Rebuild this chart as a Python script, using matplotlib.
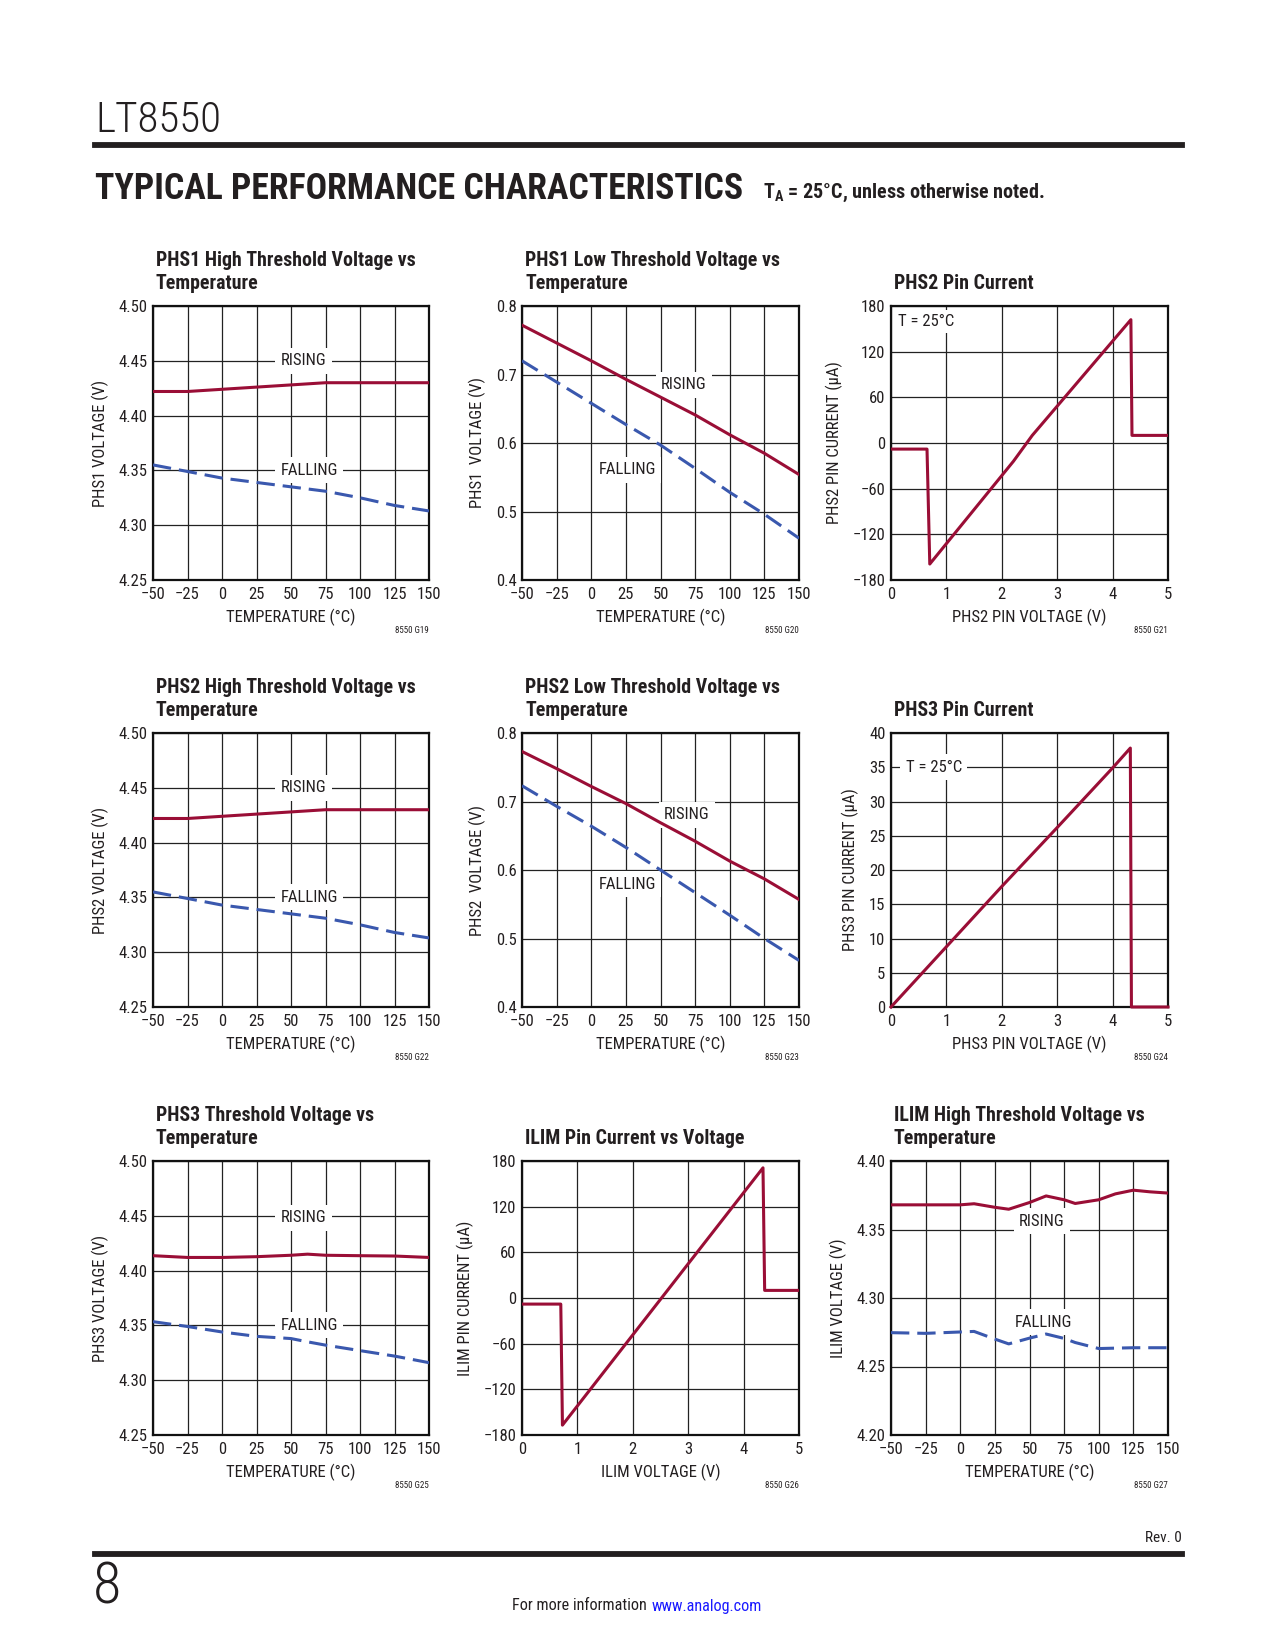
import numpy as np
import matplotlib
matplotlib.use('Agg')
import matplotlib.pyplot as plt

plt.rcParams['font.family'] = ['Roboto Condensed', 'DejaVu Sans Condensed', 'Liberation Sans Narrow',
                               'Roboto', 'DejaVu Sans']
plt.rcParams['font.stretch'] = 'condensed'
plt.rcParams['axes.unicode_minus'] = True

temp = [-50, -25, 0, 25, 50, 75, 100, 125, 150]

phs1_hi_rise = [4.422, 4.422, 4.424, 4.426, 4.428, 4.430, 4.430, 4.430, 4.430]
phs1_hi_fall = [4.355, 4.349, 4.343, 4.339, 4.335, 4.331, 4.325, 4.318, 4.313]

phs1_lo_rise = [0.772, 0.746, 0.720, 0.693, 0.667, 0.641, 0.612, 0.585, 0.554]
phs1_lo_fall = [0.720, 0.689, 0.658, 0.627, 0.597, 0.563, 0.528, 0.496, 0.461]

phs2_pin_v = [0, 0.65, 0.70, 2.21, 2.55, 4.33, 4.35, 5.0]
phs2_pin_i = [-8, -8, -159, -24, 10, 162, 10, 10]

phs2_hi_rise = [4.422, 4.422, 4.424, 4.426, 4.428, 4.430, 4.430, 4.430, 4.430]
phs2_hi_fall = [4.355, 4.349, 4.343, 4.339, 4.335, 4.331, 4.325, 4.318, 4.313]

phs2_lo_rise = [0.773, 0.748, 0.722, 0.697, 0.669, 0.642, 0.613, 0.587, 0.557]
phs2_lo_fall = [0.723, 0.693, 0.664, 0.633, 0.600, 0.567, 0.534, 0.500, 0.468]

phs3_pin_v = [0, 1, 2, 3, 4, 4.32, 4.34, 5.0]
phs3_pin_i = [0, 8.8, 17.6, 26.2, 34.9, 37.8, 0, 0]

phs3_temp = [-50, -25, 0, 25, 50, 62, 75, 100, 125, 150]
phs3_rise = [4.4136, 4.412, 4.412, 4.4127, 4.414, 4.415, 4.414, 4.4136, 4.4133, 4.412]
phs3_fall = [4.3534, 4.349, 4.344, 4.340, 4.338, 4.335, 4.332, 4.327, 4.322, 4.316]

ilim_pin_v = [0, 0.70, 0.73, 4.35, 4.38, 5.0]
ilim_pin_i = [-8, -8, -167, 171, 10, 10]

ilim_temp = [-50, -25, 0, 10, 25, 35, 50, 62, 75, 83, 100, 112, 125, 137, 150]
ilim_rise = [4.368, 4.368, 4.368, 4.3688, 4.3662, 4.3648, 4.3697, 4.3745, 4.3717,
             4.3690, 4.3717, 4.3760, 4.3787, 4.3775, 4.3766]
ilim_fall = [4.2747, 4.2742, 4.2752, 4.2756, 4.2700, 4.2665, 4.2707, 4.2737, 4.2705,
             4.2675, 4.2631, 4.2634, 4.2637, 4.2637, 4.2637]

temp_ticks = [-50, -25, 0, 25, 50, 75, 100, 125, 150]
temp_labels = ['\u221250', '\u221225', '0', '25', '50', '75', '100', '125', '150']

RED = '#9a0e36'
BLUE = '#3a58ae'
INK = '#231f20'
W, H = 1275, 1650
FS = 12

fig = plt.figure(figsize=(12.75, 16.5), dpi=100)
renderer = fig.canvas.get_renderer()


def fit(t, target_px):
    # scale a text so that it spans target_px pixels
    w = t.get_window_extent(renderer).width
    t.set_fontsize(t.get_fontsize() * target_px / w)
    return t.get_fontsize()


def make_ax(left, top, width=277, height=274):
    return fig.add_axes([left / W, 1 - (top + height) / H, width / W, height / H])


def style(ax, xlim, ylim, xticks, xlabels, yticks, ylabels, xlab, ylab, code):
    ax.set_xlim(*xlim)
    ax.set_ylim(*ylim)
    ax.set_xticks(xticks)
    ax.set_xticklabels(xlabels)
    ax.set_yticks(yticks)
    ax.set_yticklabels(ylabels)
    ax.grid(True, color='#222222', lw=0.9)
    ax.set_axisbelow(True)
    ax.tick_params(length=0, labelsize=FS, colors=INK, pad=4)
    ax.tick_params(axis='x', pad=5)
    for s in ax.spines.values():
        s.set_linewidth(1.6)
        s.set_color('#111111')
    ax.set_xlabel(xlab, fontsize=FS, color=INK, labelpad=5)
    ax.set_ylabel(ylab, fontsize=FS, color=INK, labelpad=7)
    ax.text(1.0, -0.185, code, transform=ax.transAxes, ha='right', va='center',
            fontsize=6.5, color=INK)


titles = []


def title(ax, lines):
    x0 = ax.get_position().x0 + 3 / W
    ys = [260, 283] if len(lines) == 2 else [283]
    top_offset = (1 - ax.get_position().y1) * H - 306
    for ln, y in zip(lines, ys):
        t = fig.text(x0, 1 - (y + top_offset) / H, ln, fontsize=14, fontweight='bold',
                     color=INK, va='center', ha='left')
        titles.append(t)


def label(ax, x, y, s):
    ax.text(x, y, s, ha='center', va='center', fontsize=FS, color=INK,
            bbox=dict(facecolor='white', edgecolor='none', pad=4), zorder=3)


def temp_pair(ax, xs, rise, fall):
    ax.plot(xs, rise, color=RED, lw=2.2, zorder=4)
    ax.plot(xs, fall, color=BLUE, lw=2.2, dashes=(6, 2.6), zorder=4)


cols = [153, 522, 891]
rows = [306, 733, 1161]

hi_ticks = [4.25, 4.30, 4.35, 4.40, 4.45, 4.50]
hi_labels = ['4.25', '4.30', '4.35', '4.40', '4.45', '4.50']
lo_ticks = [0.4, 0.5, 0.6, 0.7, 0.8]
lo_labels = ['0.4', '0.5', '0.6', '0.7', '0.8']
i_ticks = [-180, -120, -60, 0, 60, 120, 180]
i_labels = ['\u2212180', '\u2212120', '\u221260', '0', '60', '120', '180']
v_ticks = [0, 1, 2, 3, 4, 5]
v_labels = ['0', '1', '2', '3', '4', '5']

# row 1
ax = make_ax(cols[0], rows[0], 276)
style(ax, (-50, 150), (4.25, 4.50), temp_ticks, temp_labels, hi_ticks, hi_labels,
      'TEMPERATURE (\u00b0C)', 'PHS1 VOLTAGE (V)', '8550 G19')
temp_pair(ax, temp, phs1_hi_rise, phs1_hi_fall)
label(ax, 59, 4.45, 'RISING')
label(ax, 63, 4.35, 'FALLING')
title(ax, ['PHS1 High Threshold Voltage vs', 'Temperature'])

ax = make_ax(cols[1], rows[0])
style(ax, (-50, 150), (0.4, 0.8), temp_ticks, temp_labels, lo_ticks, lo_labels,
      'TEMPERATURE (\u00b0C)', 'PHS1  VOLTAGE (V)', '8550 G20')
temp_pair(ax, temp, phs1_lo_rise, phs1_lo_fall)
label(ax, 67, 0.685, 'RISING')
label(ax, 26, 0.561, 'FALLING')
title(ax, ['PHS1 Low Threshold Voltage vs', 'Temperature'])

ax = make_ax(cols[2], rows[0])
style(ax, (0, 5), (-180, 180), v_ticks, v_labels, i_ticks, i_labels,
      'PHS2 PIN VOLTAGE (V)', 'PHS2 PIN CURRENT (\u00b5A)', '8550 G21')
ax.plot(phs2_pin_v, phs2_pin_i, color=RED, lw=2.2, zorder=4)
ax.text(0.13, 160, 'T = 25\u00b0C', ha='left', va='center', fontsize=FS, color=INK,
        bbox=dict(facecolor='white', edgecolor='none', pad=3), zorder=3)
title(ax, ['PHS2 Pin Current'])

# row 2
ax = make_ax(cols[0], rows[1], 276)
style(ax, (-50, 150), (4.25, 4.50), temp_ticks, temp_labels, hi_ticks, hi_labels,
      'TEMPERATURE (\u00b0C)', 'PHS2 VOLTAGE (V)', '8550 G22')
temp_pair(ax, temp, phs2_hi_rise, phs2_hi_fall)
label(ax, 59, 4.45, 'RISING')
label(ax, 63, 4.35, 'FALLING')
title(ax, ['PHS2 High Threshold Voltage vs', 'Temperature'])

ax = make_ax(cols[1], rows[1])
style(ax, (-50, 150), (0.4, 0.8), temp_ticks, temp_labels, lo_ticks, lo_labels,
      'TEMPERATURE (\u00b0C)', 'PHS2  VOLTAGE (V)', '8550 G23')
temp_pair(ax, temp, phs2_lo_rise, phs2_lo_fall)
label(ax, 69, 0.681, 'RISING')
label(ax, 26, 0.579, 'FALLING')
title(ax, ['PHS2 Low Threshold Voltage vs', 'Temperature'])

ax = make_ax(cols[2], rows[1])
style(ax, (0, 5), (0, 40), v_ticks, v_labels, list(range(0, 41, 5)),
      [str(v) for v in range(0, 41, 5)],
      'PHS3 PIN VOLTAGE (V)', 'PHS3 PIN CURRENT (\u00b5A)', '8550 G24')
ax.plot(phs3_pin_v, phs3_pin_i, color=RED, lw=2.2, zorder=4, clip_on=False)
label(ax, 0.77, 35, 'T = 25\u00b0C')
title(ax, ['PHS3 Pin Current'])

# row 3
ax = make_ax(cols[0], rows[2], 276)
style(ax, (-50, 150), (4.25, 4.50), temp_ticks, temp_labels, hi_ticks, hi_labels,
      'TEMPERATURE (\u00b0C)', 'PHS3 VOLTAGE (V)', '8550 G25')
temp_pair(ax, phs3_temp, phs3_rise, phs3_fall)
label(ax, 59, 4.448, 'RISING')
label(ax, 63, 4.35, 'FALLING')
title(ax, ['PHS3 Threshold Voltage vs', 'Temperature'])

ax = make_ax(cols[1], rows[2])
style(ax, (0, 5), (-180, 180), v_ticks, v_labels, i_ticks, i_labels,
      'ILIM VOLTAGE (V)', 'ILIM PIN CURRENT (\u00b5A)', '8550 G26')
ax.plot(ilim_pin_v, ilim_pin_i, color=RED, lw=2.2, zorder=4)
title(ax, ['ILIM Pin Current vs Voltage'])

ax = make_ax(cols[2], rows[2])
style(ax, (-50, 150), (4.20, 4.40), temp_ticks, temp_labels,
      [4.20, 4.25, 4.30, 4.35, 4.40], ['4.20', '4.25', '4.30', '4.35', '4.40'],
      'TEMPERATURE (\u00b0C)', 'ILIM VOLTAGE (V)', '8550 G27')
temp_pair(ax, ilim_temp, ilim_rise, ilim_fall)
label(ax, 59, 4.356, 'RISING')
label(ax, 60, 4.2824, 'FALLING')
title(ax, ['ILIM High Threshold Voltage vs', 'Temperature'])

# common title size, fitted on the first title line
tsize = fit(titles[0], 260)
for t in titles:
    t.set_fontsize(tsize)

# ---------------- page furniture ----------------
t = fig.text(95 / W, 1 - 121 / H, 'LT8550', fontsize=31, fontweight='light', color=INK,
             va='center', ha='left')
fit(t, 126)
fig.add_artist(plt.Line2D([95 / W, 1182 / W], [1 - 144.5 / H, 1 - 144.5 / H],
                          color=INK, lw=4.2))
t = fig.text(95 / W, 1 - 189 / H, 'TYPICAL PERFORMANCE CHARACTERISTICS', fontsize=29,
             fontweight='heavy', color=INK, va='center', ha='left')
fit(t, 647)
t = fig.text(763 / W, 1 - 193 / H, 'T$_\\mathregular{A}$ = 25\u00b0C, unless otherwise noted.',
             fontsize=12.5, fontweight='bold', color=INK, va='center', ha='left')
fit(t, 283)

fig.text(1182 / W, 1 - 1538 / H, 'Rev. 0', fontsize=11, color=INK, ha='right', va='center')
fig.add_artist(plt.Line2D([95 / W, 1182 / W], [1 - 1553.5 / H, 1 - 1553.5 / H],
                          color=INK, lw=4.2))
fig.text(93 / W, 1 - 1588 / H, '8', fontsize=42, fontweight='light', color=INK,
         ha='left', va='center')
t1 = fig.text(512 / W, 1 - 1606 / H, 'For more information ', fontsize=11, color=INK,
              ha='left', va='center')
w1 = fit(t1, 138)
t1w = t1.get_window_extent(renderer).width
fig.text((512 + t1w + 1) / W, 1 - 1606 / H, 'www.analog.com', fontsize=w1, color='#1a1aff',
         ha='left', va='center')

fig.savefig('out.png', dpi=100, facecolor='white')
